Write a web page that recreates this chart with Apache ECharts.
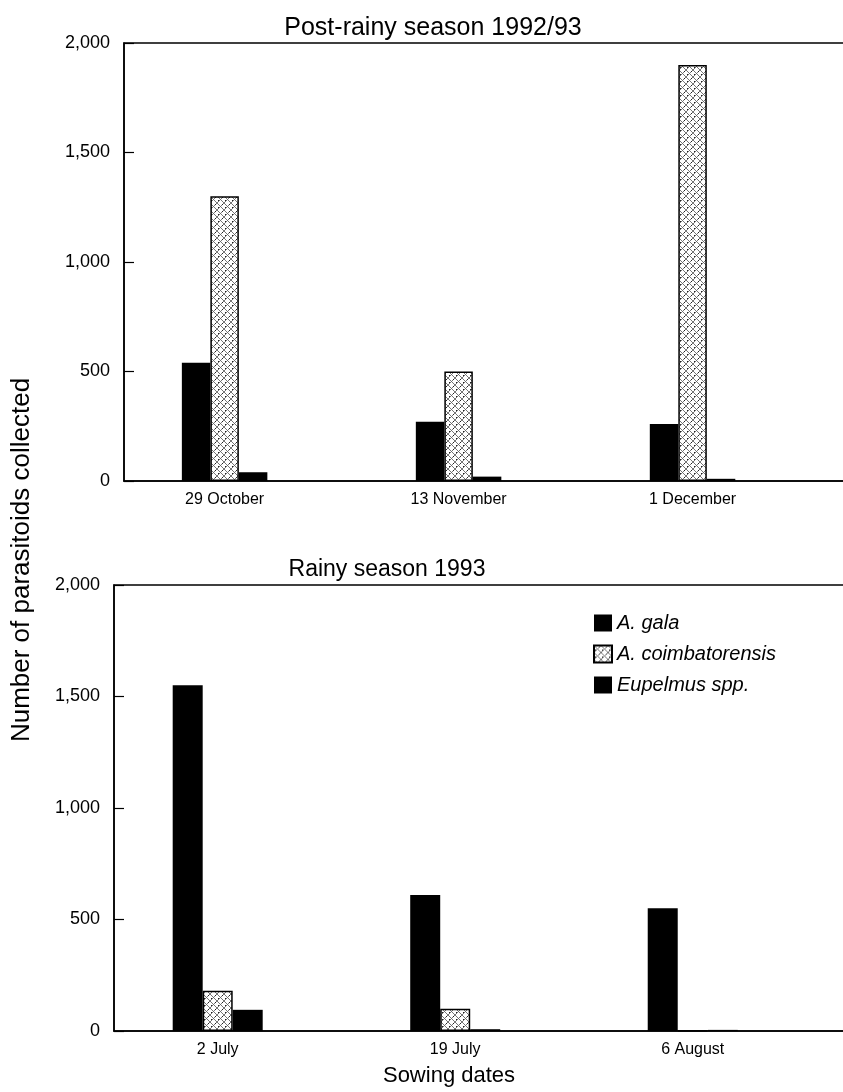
<!DOCTYPE html>
<html>
<head>
<meta charset="utf-8">
<script src="https://cdn.jsdelivr.net/npm/echarts@6/dist/echarts.min.js"></script>
<style>
html,body{margin:0;padding:0;background:#fff;}
#c{width:843px;height:1092px;}
</style>
</head>
<body>
<div id="c"></div>
<script>
// ---- data ----
const seriesNames = ['A. gala', 'A. coimbatorensis', 'Eupelmus spp.'];
const postDates = ['29 October', '13 November', '1 December'];
const postGala = [540, 270, 260];
const postCoimb = [1300, 500, 1900];
const postEup = [40, 20, 10];
const rainyDates = ['2 July', '19 July', '6 August'];
const rainyGala = [1550, 610, 550];
const rainyCoimb = [180, 100, 3];
const rainyEup = [95, 8, 5];

// ---- pattern for hatched bars ----
function makePattern() {
  const c = document.createElement('canvas');
  c.width = 7; c.height = 7;
  const g = c.getContext('2d');
  g.fillStyle = '#fff'; g.fillRect(0, 0, 7, 7);
  g.strokeStyle = '#666'; g.lineWidth = 0.9;
  g.beginPath();
  g.moveTo(0, 7); g.lineTo(7, 0);
  g.moveTo(0, 0); g.lineTo(7, 7);
  g.stroke();
  g.fillStyle = '#222';
  g.fillRect(1, 4, 1, 1); g.fillRect(5, 1, 1, 1);
  return c;
}
const hatch = { image: makePattern(), repeat: 'repeat' };

const FONT = '"Liberation Sans", Arial, Helvetica, sans-serif';
const fmt = v => Number(v).toLocaleString('en-US');
const pair = arr => arr.map((v, i) => [i, v]);

function xAxisFor(gridIndex, cats, min, max) {
  return {
    type: 'value', gridIndex, min, max,
    axisLine: { show: true, onZero: false, lineStyle: { color: '#000', width: 1.5 } },
    axisTick: { show: false },
    splitLine: { show: false },
    axisLabel: {
      customValues: [0, 1, 2],
      formatter: v => cats[Math.round(v)] || '',
      color: '#000', fontFamily: FONT, fontSize: 16, margin: 11
    }
  };
}
function yAxisFor(gridIndex) {
  return {
    type: 'value', gridIndex, min: 0, max: 2000, interval: 500,
    axisLine: { show: true, onZero: false, lineStyle: { color: '#000', width: 1.5 } },
    axisTick: { show: true, inside: true, length: 10, lineStyle: { color: '#000', width: 1.2 } },
    splitLine: { show: false },
    axisLabel: { formatter: fmt, color: '#000', fontFamily: FONT, fontSize: 18, margin: 14 }
  };
}
function barSeries(name, data, xi, color, bw, bordered) {
  return {
    type: 'bar', name, xAxisIndex: xi, yAxisIndex: xi,
    data: pair(data), barWidth: bw, barGap: '0%',
    itemStyle: bordered ? { color: color, borderColor: '#000', borderWidth: 1.5 } : { color: color },
    emphasis: { disabled: true }
  };
}

const chart = echarts.init(document.getElementById('c'));
chart.setOption({
  animation: false,
  backgroundColor: '#fff',
  title: [
    { text: 'Post-rainy season 1992/93', left: 428, top: 11, textAlign: 'center',
      textStyle: { fontFamily: FONT, fontWeight: 'normal', fontSize: 25, color: '#000' } },
    { text: 'Rainy season 1993', left: 382, top: 553, textAlign: 'center',
      textStyle: { fontFamily: FONT, fontWeight: 'normal', fontSize: 23, color: '#000' } }
  ],
  legend: {
    data: seriesNames, orient: 'vertical', left: 588, top: 608,
    itemWidth: 18, itemHeight: 17, itemGap: 11, icon: 'rect',
    textStyle: { fontFamily: FONT, fontStyle: 'italic', fontSize: 20, color: '#000' },
    selectedMode: false
  },
  grid: [
    { left: 124, top: 43, height: 438, width: 730, outerBoundsMode: 'none', show: true, borderColor: '#000', borderWidth: 1.5, backgroundColor: 'transparent' },
    { left: 114, top: 585, height: 446, width: 740, outerBoundsMode: 'none', show: true, borderColor: '#000', borderWidth: 1.5, backgroundColor: 'transparent' }
  ],
  xAxis: [
    xAxisFor(0, postDates, -0.43, 2.69),
    xAxisFor(1, rainyDates, -0.4366, 2.679)
  ],
  yAxis: [yAxisFor(0), yAxisFor(1)],
  series: [
    barSeries(seriesNames[0], postGala, 0, '#000', 28.5, false),
    barSeries(seriesNames[1], postCoimb, 0, hatch, 28.5, true),
    barSeries(seriesNames[2], postEup, 0, '#000', 28.5, false),
    barSeries(seriesNames[0], rainyGala, 1, '#000', 30, false),
    barSeries(seriesNames[1], rainyCoimb, 1, hatch, 30, true),
    barSeries(seriesNames[2], rainyEup, 1, '#000', 30, false)
  ],
  graphic: [
    { type: 'text', x: 22, y: 560, rotation: Math.PI / 2,
      style: { text: 'Number of parasitoids collected', fontFamily: FONT, fontSize: 26, fill: '#000',
               align: 'center', verticalAlign: 'middle' } },
    { type: 'text', x: 449, y: 1076,
      style: { text: 'Sowing dates', fontFamily: FONT, fontSize: 22, fill: '#000',
               align: 'center', verticalAlign: 'middle' } }
  ]
});
</script>
</body>
</html>
